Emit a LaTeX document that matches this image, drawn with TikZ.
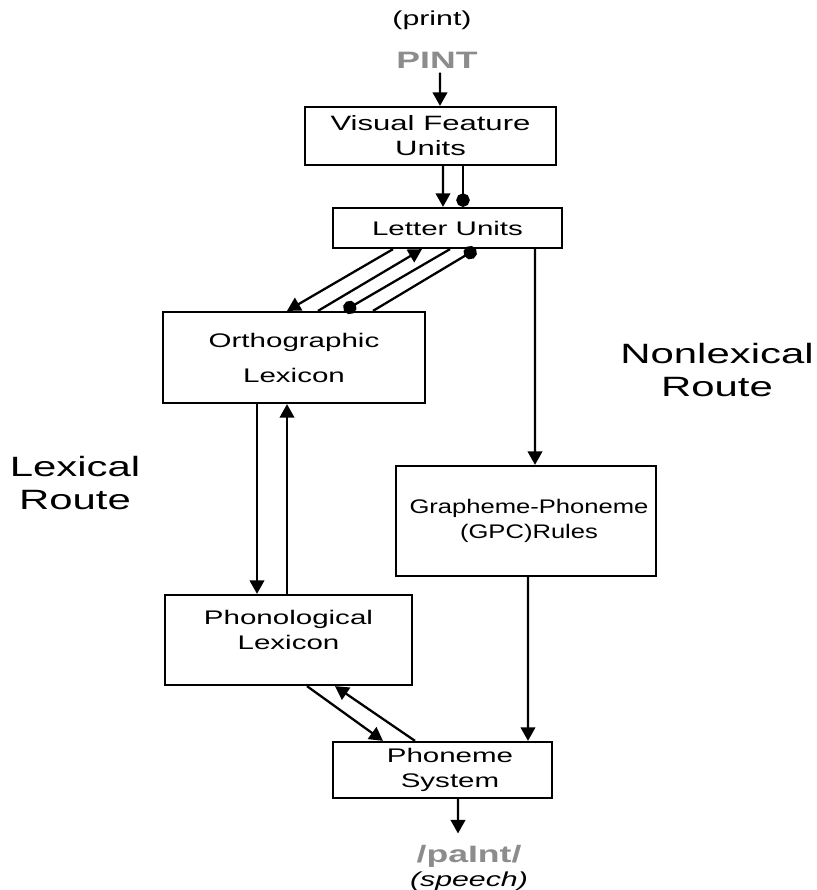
\documentclass[tikz,border=0pt]{standalone}
\usepackage{fontspec}
\setmainfont{Liberation Sans}[FakeStretch=1.5]
\newfontfamily\routefont{Liberation Sans}[FakeStretch=1.5]
\newfontfamily\narrowfont{Liberation Sans}[FakeStretch=1.3]
\usetikzlibrary{arrows.meta,calc}
\definecolor{wordgray}{gray}{0.55}
\tikzset{
  unit/.style={draw, line width=1.3pt, align=center, inner sep=0pt,
    font=\fontsize{11.2}{14.2}\selectfont},
  excite/.style={line width=1.3pt, -{Triangle[length=0.27cm,width=0.29cm]}},
  inhibit/.style={line width=1.3pt, -{Circle[length=0.27cm]}},
  word/.style={inner sep=0pt, font=\fontsize{13.5}{15}\selectfont\bfseries, text=wordgray},
  gloss/.style={inner sep=0pt, font=\fontsize{11.5}{13}\selectfont},
  route/.style={align=center, font=\routefont\fontsize{15.9}{18.5}\selectfont}
}

\begin{document}
\begin{tikzpicture}[x=0.02cm,y=-0.02cm]
\useasboundingbox (0,0) rectangle (816,890);
\node[gloss] (print) at (432,20) {(print)};
\node[word] (pint) at (437,60) {PINT};
\node[unit, minimum width=5.02cm, minimum height=1.16cm, font=\fontsize{11.8}{14.2}\selectfont] (vfu) at (430.5,136) {Visual Feature\\Units};
\node[unit, minimum width=4.58cm, minimum height=0.8cm] (letter) at (447.5,228) {Letter Units};
\node[unit, minimum width=5.24cm, minimum height=1.82cm] (ortho) at (294,357.5) {Orthographic\\[0.2cm]Lexicon};
\node[unit, minimum width=4.94cm, minimum height=1.8cm] (phono) at (288.5,640) {Phonological\\Lexicon\\[-0.1cm]\mbox{}};
\node[unit, minimum width=5.2cm, minimum height=2.2cm, font=\narrowfont\fontsize{11.2}{14.2}\selectfont] (gpc) at (526,521) {\hspace*{0.12cm}Grapheme-Phoneme\\\hspace*{0.12cm}(GPC)Rules};
\node[unit, minimum width=4.38cm, minimum height=1.12cm] (phoneme) at (442.5,770) {\hspace*{0.3cm}Phoneme\\\hspace*{0.3cm}System};
\node[word, anchor=base] (paint) at (469,862) {/paInt/};
\node[gloss, anchor=base, font=\fontsize{11.5}{13}\selectfont\itshape] (speech) at (469,886) {(speech)};
\node[route] (lexical) at (75,483) {Lexical\\Route};
\node[route] (nonlexical) at (717,370) {Nonlexical\\Route};

\draw[excite] ($(pint.south)+(3,4)$) -- ($(vfu.north)+(9.5,0)$);
\draw[excite] ($(vfu.south)+(12.5,0)$) -- ($(letter.north)+(-4.5,0)$);
\draw[inhibit] ($(vfu.south)+(32.5,0)$) -- ($(letter.north)+(15.5,0)$);
\draw[excite] ($(letter.south)+(87.5,0)$) -- ($(gpc.north)+(9,0)$);
\draw[excite] ($(letter.south)+(-54.5,0)$) -- ($(ortho.north)+(-7,0)$);
\draw[excite] ($(ortho.north)+(24,0)$) -- ($(letter.south)+(-25.5,0)$);
\draw[inhibit] ($(letter.south)+(2.5,0)$) -- ($(ortho.north)+(50,0)$);
\draw[inhibit] ($(ortho.north)+(79,0)$) -- ($(letter.south)+(28.5,0)$);
\draw[excite] ($(ortho.south)+(-37,0)$) -- ($(phono.north)+(-31.5,0)$);
\draw[excite] ($(phono.north)+(-1.5,0)$) -- ($(ortho.south)+(-7,0)$);
\draw[excite] ($(phono.south)+(18.5,0)$) -- ($(phoneme.north)+(-59.5,0)$);
\draw[excite] ($(phoneme.north)+(-27.5,0)$) -- ($(phono.south)+(46.5,0)$);
\draw[excite] ($(gpc.south)+(2,0)$) -- ($(phoneme.north)+(85.5,0)$);
\draw[excite] ($(phoneme.south)+(15.5,0)$) -- ($(paint.north)+(-11,-11)$);
\end{tikzpicture}
\end{document}
